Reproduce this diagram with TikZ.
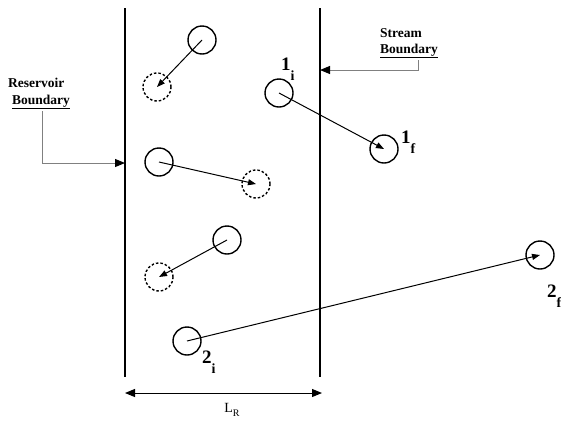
\documentclass[tikz,border=0pt]{standalone}
\usepackage{fontspec}
\setmainfont{Liberation Serif}
\usepackage{xcolor}
\usepackage{tikz}
\usetikzlibrary{calc,arrows.meta,positioning}
\definecolor{linec}{HTML}{000000}
\definecolor{grayc}{HTML}{808080}
\newcommand{\plab}[2]{\fontsize{19}{19}\selectfont\bfseries #1\raisebox{-10pt}{\fontsize{14}{14}\selectfont #2}}
\tikzset{
  ar/.style={-{Triangle[length=8pt,width=6pt]},line width=1pt,linec},
  dimar/.style={{Triangle[length=10pt,width=8pt]}-{Triangle[length=10pt,width=8pt]},line width=1pt,linec},
  callout/.style={-{Triangle[length=10pt,width=8pt,color=linec]},line width=1pt,grayc},
  bnd/.style={line width=1.5pt,linec},
  sol/.style={circle,draw=linec,line width=1.4pt,minimum size=28pt,inner sep=0pt},
  dsh/.style={sol,dash pattern=on 2.5pt off 2pt},
  lbl/.style={font=\fontsize{13.5}{14}\selectfont\bfseries,inner sep=0pt,anchor=base west},
  plb/.style={inner sep=0pt,anchor=base west}
}
\begin{document}
\begin{tikzpicture}[x=1pt,y=-1pt]
\useasboundingbox (0,0) rectangle (561,421);
% boundaries
\draw[bnd] (125,8)--(125,377);
\draw[bnd] (320,8)--(320,377);
\coordinate (dl) at (125,393);
\coordinate (dr) at (322,393);
\draw[dimar] (dl)--(dr);
\node[inner sep=0pt] (lr) at (232,410) {\fontsize{14}{14}\selectfont L\raisebox{-4pt}{\fontsize{10}{10}\selectfont R}};
% labels
\node[lbl] (resv) at (8,87) {Reservoir};
\node[lbl] (resb) at (12,104) {\underline{Boundary}};
\node[lbl] (strm) at (380,37) {Stream};
\node[lbl] (strb) at (380,53) {\underline{Boundary}};
\coordinate (rtip) at (125,163);
\coordinate (stip) at (320,70);
\draw[callout] ([xshift=30pt,yshift=-2pt]resb.south west) |- (rtip);
\draw[callout] ([xshift=38pt,yshift=-2pt]strb.south west) |- (stip);
% particles
\node[sol] (a0) at (202,40) {};
\node[dsh] (a1) at (157,87) {};
\node[sol] (b0) at (159,162) {};
\node[dsh] (b1) at (256,184) {};
\node[sol] (c0) at (227,240) {};
\node[dsh] (c1) at (159,277) {};
\node[sol] (p1i) at (279,93) {};
\node[sol] (p1f) at (384,149) {};
\node[sol] (p2i) at (187,341) {};
\node[sol] (p2f) at (540,255) {};
\draw[ar] (a0.center)--(a1.center);
\draw[ar] (b0.center)--(b1.center);
\draw[ar] (c0.center)--(c1.center);
\draw[ar] (p1i.center)--(p1f.center);
\draw[ar] (p2i.center)--(p2f.center);
\node[plb] (t1i) at (281,70) {\plab{1}{i}};
\node[plb] (t1f) at (401,143) {\plab{1}{f}};
\node[plb] (t2i) at (202,363) {\plab{2}{i}};
\node[plb] (t2f) at (547,297) {\plab{2}{f}};
\end{tikzpicture}
\end{document}
